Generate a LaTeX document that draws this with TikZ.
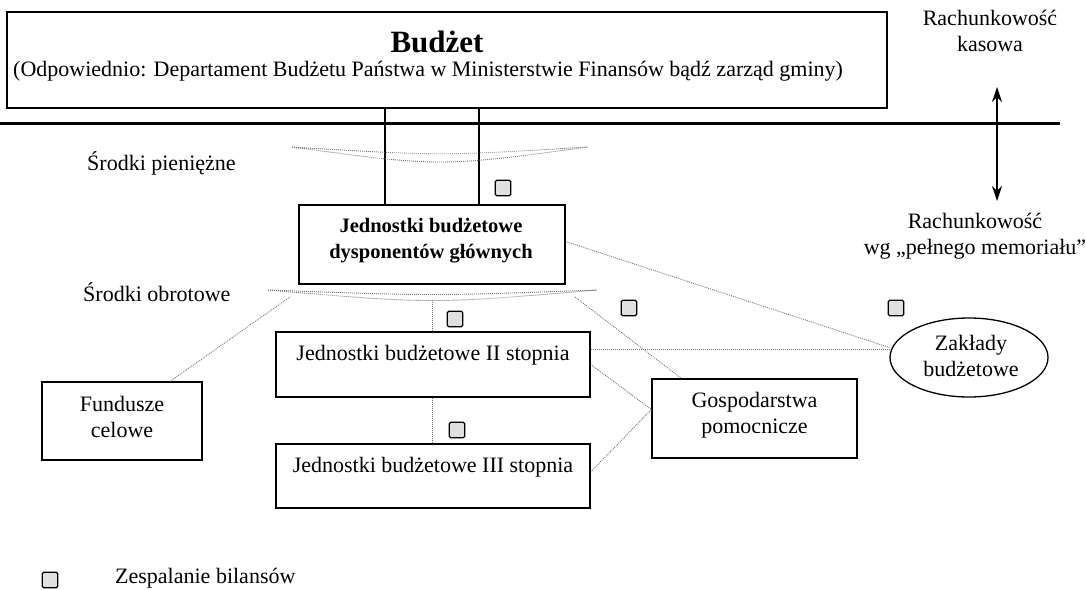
\documentclass[tikz,border=0pt]{standalone}
\usepackage{fontspec}
\setmainfont{Liberation Serif}
\usetikzlibrary{arrows.meta,shapes.geometric,calc}

\begin{document}
\begin{tikzpicture}[x=1pt,y=-1pt,
  box/.style={draw, line width=1.3pt, rectangle, inner sep=0pt},
  tie/.style={draw=black!55, line width=0.9pt, dash pattern=on 0.9pt off 1.1pt},
  merge/.style={draw, line width=1.2pt, fill=black!12, rectangle, rounded corners=1.5pt,
                minimum size=15.5pt, inner sep=0pt},
  txt/.style={font=\fontsize{22}{26}\selectfont, align=center, inner sep=0pt},
  boldtxt/.style={font=\fontsize{20.5}{26}\selectfont\bfseries, align=center, inner sep=0pt},
  twoway/.style={line width=1.2pt, >={Stealth[length=15pt,width=10pt]}, <->},
]
\useasboundingbox (0,0) rectangle (1086,589);

% --- budget box and the cash / accrual divide ---
\node[box, minimum width=880pt, minimum height=96pt] (bud) at (447,60) {};
\node[font=\fontsize{31}{33}\selectfont\bfseries, inner sep=0pt] (budT) at (437,42) {Budżet};
\node[txt, anchor=west] (budS) at (13,71) {(Odpowiednio: Departament Budżetu Państwa w Ministerstwie Finansów bądź zarząd gminy)};

\coordinate (divL) at (0,123);
\coordinate (divR) at (1060,123);
\draw[line width=3pt] (divL) -- (divR);

\node[txt] (kas) at (990,31) {Rachunkowość\\kasowa};
\node[txt] (mem) at (975,236) {Rachunkowość\\wg „pełnego memoriału”};
\coordinate (arrT) at (997,87);
\coordinate (arrB) at (997,201);
\draw[twoway] (arrT) -- (arrB);

% --- main units ---
\node[box, minimum width=266pt, minimum height=79pt] (dysp) at (432,244.5) {};
\node[boldtxt] (dyspT) at (431,241) {Jednostki budżetowe\\dysponentów głównych};

\node[box, minimum width=314pt, minimum height=65pt] (b2) at (433,364.5) {};
\node[txt] (b2T) at (433,355) {Jednostki budżetowe II stopnia};

\node[box, minimum width=314pt, minimum height=64pt] (b3) at (433,476) {};
\node[txt] (b3T) at (433,467) {Jednostki budżetowe III stopnia};

\node[box, minimum width=160pt, minimum height=78pt] (fund) at (122,421) {};
\node[txt] (fundT) at (122,416.5) {Fundusze\\celowe};

\node[box, minimum width=205pt, minimum height=79pt] (gosp) at (754.5,418.5) {};
\node[txt] (gospT) at (754.5,415.5) {Gospodarstwa\\pomocnicze};

\node[draw, line width=1.3pt, ellipse, minimum width=158pt, minimum height=79pt, inner sep=0pt] (zakl) at (969,357.5) {};
\node[txt] (zaklT) at (971,355.5) {Zakłady\\budżetowe};

% --- cash flows from the budget ---
\coordinate (v1) at (385,0);
\coordinate (v2) at (479,0);
\draw[line width=1.1pt] (bud.south -| v1) -- (dysp.north -| v1);
\draw[line width=1.1pt] (bud.south -| v2) -- (dysp.north -| v2);

% lens: cash
\coordinate (p1L) at (292,147);
\coordinate (p1R) at (588,147);
\draw[tie] (p1L) .. controls (440,156) .. (p1R);
\draw[tie] (p1L) .. controls (440,167) .. (p1R);
\node[txt, anchor=west] (sp) at (87,163) {Środki pieniężne};

% lens: working assets
\coordinate (p2L) at (268,290);
\coordinate (p2R) at (597,290);
\coordinate (p2M) at (432,300);
\draw[tie] (p2L) .. controls (432,296) .. (p2R);
\draw[tie] (p2L) .. controls (432,304) .. (p2R);
\node[txt, anchor=west] (so) at (83,292) {Środki obrotowe};

% --- dotted links ---
\coordinate (p2a) at (290,297);
\coordinate (p2b) at (575,297);
\draw[tie] (p2M) -- (p2M |- b2.north);
\draw[tie] (b2.south -| p2M) -- (b3.north -| p2M);
\draw[tie] ($(fund.north)+(48,0)$) -- (p2a);
\draw[tie] (p2b) -- ($(gosp.north west)+(30,0)$);
\draw[tie] ($(dysp.east)+(0,-3)$) -- ($(zakl.west)+(0,-10)$);
\draw[tie] ($(b2.east)+(0,-15)$) -- ($(zakl.west)+(0,-8)$);
\coordinate (gl) at ($(gosp.west)+(0,-9)$);
\draw[tie] ($(b2.east)+(0,0)$) -- (gl);
\draw[tie] ($(b3.east)+(0,-4)$) -- (gl);

% --- balance consolidation markers ---
\node[merge] (m1) at (503,188) {};
\node[merge] (m2) at (455,319) {};
\node[merge] (m3) at (629,308) {};
\node[merge] (m4) at (896,308) {};
\node[merge] (m5) at (457,430) {};

% legend
\node[merge] (lg) at (50,580) {};
\node[txt, anchor=west] (lgT) at (115,578) {Zespalanie bilansów};
\end{tikzpicture}
\end{document}
